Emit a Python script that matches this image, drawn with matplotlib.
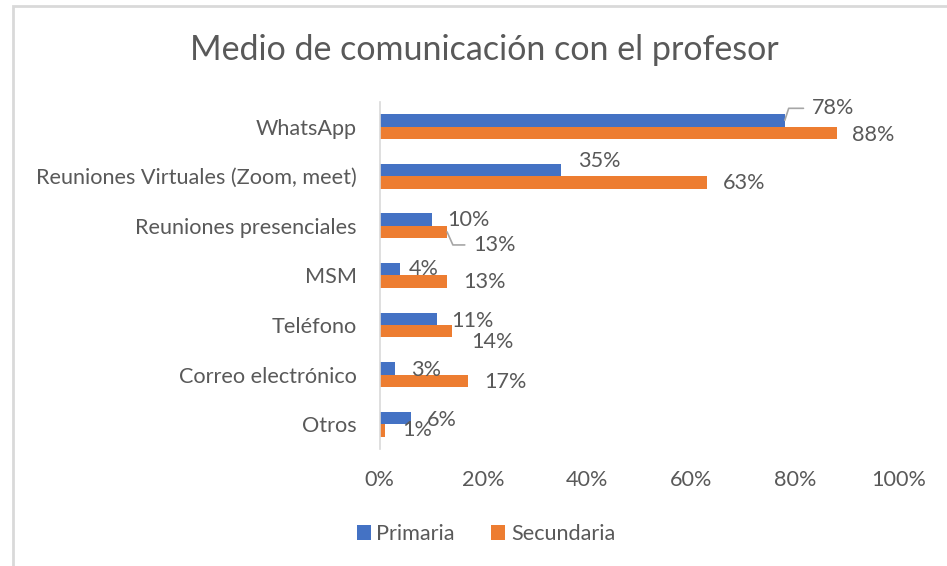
import numpy as np
import matplotlib.pyplot as plt
from matplotlib.patches import Rectangle
from matplotlib.ticker import FuncFormatter

plt.rcParams['font.family'] = ['Lato', 'DejaVu Sans']

categories = ["WhatsApp", "Reuniones Virtuales (Zoom, meet)", "Reuniones presenciales",
              "MSM", "Teléfono", "Correo electrónico", "Otros"]
primaria = [78, 35, 10, 4, 11, 3, 6]
secundaria = [88, 63, 13, 13, 14, 17, 1]

# label offsets in pixels from bar end (dx, dy)
off_pri = [(27, 12), (17, 9), (16, 0), (8, 0), (14, -2), (16, -2), (16, -2)]
off_sec = [(15, -2), (16, -1), (26, -13), (16, 0), (19, -11), (16, -1), (17, 0)]
leader_pri = {0: 72}
leader_sec = {2: -66}

blue = "#4472C4"
orange = "#ED7D31"
gray = "#595959"
fs = 15.6

fig = plt.figure(figsize=(9.47, 5.66), dpi=100)
ax = fig.add_axes([0.4008, 0.2067, 0.5486, 0.6136])

y = np.arange(len(categories))
h = 0.25
ax.barh(y - h / 2, primaria, h, color=blue, label="Primaria")
ax.barh(y + h / 2, secundaria, h, color=orange, label="Secundaria")

ax.set_xlim(0, 100)
ax.set_ylim(len(categories) - 0.5, -0.5)
ax.set_xticks(range(0, 101, 20))
ax.xaxis.set_major_formatter(FuncFormatter(lambda v, p: f"{v:.0f}%"))
ax.set_yticks(y)
ax.set_yticklabels(categories)
ax.tick_params(axis='both', length=0, labelsize=fs, colors=gray)
ax.tick_params(axis='y', pad=16.5)
ax.tick_params(axis='x', pad=15)
for s in ["top", "right", "bottom"]:
    ax.spines[s].set_visible(False)
ax.spines["left"].set_color("#D9D9D9")
ax.spines["left"].set_linewidth(1.2)


def add_labels(vals, ypos, offs, leaders):
    for i, (v, yy) in enumerate(zip(vals, ypos)):
        dx, dy = offs[i]
        kw = {}
        if i in leaders:
            kw["arrowprops"] = dict(arrowstyle="-", color="#A6A6A6", lw=1.2,
                                    shrinkA=4, shrinkB=0, relpos=(0, 0.5),
                                    connectionstyle=f"angle,angleA=0,angleB={leaders[i]},rad=0")
        ax.annotate(f"{v}%", xy=(v, yy), xytext=(dx, dy), textcoords="offset pixels",
                    ha="left", va="center", fontsize=fs, color=gray, **kw)


add_labels(primaria, y - h / 2, off_pri, leader_pri)
add_labels(secundaria, y + h / 2, off_sec, leader_sec)

fig.text(0.511, 1 - 50 / 566, "Medio de comunicación con el profesor", ha="center", va="center",
         fontsize=24.5, color=gray)

fig.legend(loc="center", bbox_to_anchor=(0.513, 1 - 534 / 566), ncol=2, frameon=False,
           fontsize=fs, labelcolor=gray, handlelength=0.65, handleheight=0.65,
           handletextpad=0.25, columnspacing=1.7)

fig.patches.append(Rectangle((13 / 947, -0.1), 1.2, 1 - 6 / 566 + 0.1, transform=fig.transFigure,
                             fill=False, edgecolor="#D9D9D9", lw=2))

fig.savefig("out.png", dpi=100)
